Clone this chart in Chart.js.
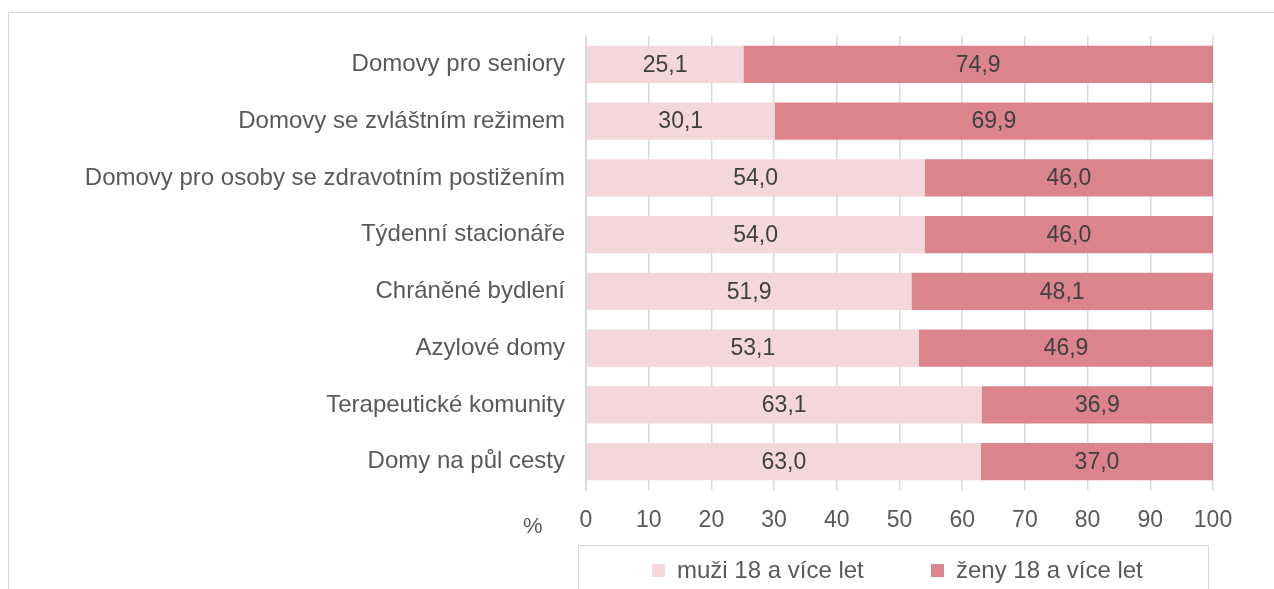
<!DOCTYPE html>
<html>
<head>
<meta charset="utf-8">
<script src="https://cdn.jsdelivr.net/npm/chart.js@4"></script>
<style>
  body { margin: 0; background: #fff; font-family: "Liberation Sans", Arial, sans-serif; }
  #ramec { position: absolute; left: 8px; top: 12px; width: 1300px; height: 620px; border: 1px solid #d9d9d9; box-sizing: border-box; }
  #graf { position: absolute; left: 0; top: 0; }
  #procenta { position: absolute; left: 523px; top: 513px; font-size: 22px; color: #595959; }
  #legenda { position: absolute; left: 578px; top: 545px; width: 631px; height: 70px; border: 1px solid #d9d9d9; box-sizing: border-box; font-size: 24px; color: #595959; }
  .polozka { position: absolute; top: 10px; display: flex; align-items: center; }
  .ctverec { width: 13px; height: 13px; margin-right: 12px; }
</style>
</head>
<body>
<div id="ramec"></div>
<canvas id="graf" width="1274" height="589"></canvas>
<span id="procenta">%</span>
<div id="legenda">
  <div class="polozka" style="left:73px"><span class="ctverec" style="background:#f4d7db"></span>muži 18 a více let</div>
  <div class="polozka" style="left:352px"><span class="ctverec" style="background:#dc848b"></span>ženy 18 a více let</div>
</div>
<script>
const kategorie = [
  "Domovy pro seniory",
  "Domovy se zvláštním režimem",
  "Domovy pro osoby se zdravotním postižením",
  "Týdenní stacionáře",
  "Chráněné bydlení",
  "Azylové domy",
  "Terapeutické komunity",
  "Domy na půl cesty"
];
const muzi = [25.1, 30.1, 54.0, 54.0, 51.9, 53.1, 63.1, 63.0];
const zeny = [74.9, 69.9, 46.0, 46.0, 48.1, 46.9, 36.9, 37.0];
const osaX = [0, 10, 20, 30, 40, 50, 60, 70, 80, 90, 100];

const popisky = {
  id: "popisky",
  afterDatasetsDraw(chart) {
    const ctx = chart.ctx;
    ctx.save();
    ctx.font = "23px 'Liberation Sans', Arial, sans-serif";
    ctx.fillStyle = "#404040";
    ctx.textAlign = "center";
    ctx.textBaseline = "middle";
    chart.data.datasets.forEach((ds, i) => {
      chart.getDatasetMeta(i).data.forEach((bar, j) => {
        const x = (bar.x + bar.base) / 2;
        ctx.fillText(ds.data[j].toFixed(1).replace(".", ","), x, bar.y + 1);
      });
    });
    ctx.restore();
  }
};

Chart.defaults.font.family = "'Liberation Sans', Arial, sans-serif";
Chart.defaults.font.size = 24;
Chart.defaults.color = "#595959";

new Chart(document.querySelector("#graf"), {
  type: "bar",
  data: {
    labels: kategorie,
    datasets: [
      { label: "muži 18 a více let", data: muzi, backgroundColor: "#f4d7db" },
      { label: "ženy 18 a více let", data: zeny, backgroundColor: "#dc848b" }
    ]
  },
  options: {
    indexAxis: "y",
    responsive: false,
    animation: false,
    layout: { padding: { top: 36, right: 61, left: 0, bottom: 0 } },
    datasets: { bar: { categoryPercentage: 0.66, barPercentage: 1 } },
    plugins: { legend: { display: false }, tooltip: { enabled: false } },
    scales: {
      x: {
        stacked: true,
        min: 0,
        max: 100,
        afterBuildTicks: (s) => { s.ticks = osaX.map((v) => ({ value: v })); },
        grid: { color: "#d9d9d9", lineWidth: 1.5, drawTicks: false },
        border: { display: false },
        ticks: { padding: 17, color: "#595959", font: { size: 23 } },
        afterFit: (s) => { s.height = 99; }
      },
      y: {
        stacked: true,
        grid: { display: false },
        border: { color: "#d9d9d9", width: 2 },
        ticks: { padding: 13, color: "#595959" },
        afterFit: (s) => { s.width = 586; }
      }
    }
  },
  plugins: [popisky]
});
</script>
</body>
</html>
